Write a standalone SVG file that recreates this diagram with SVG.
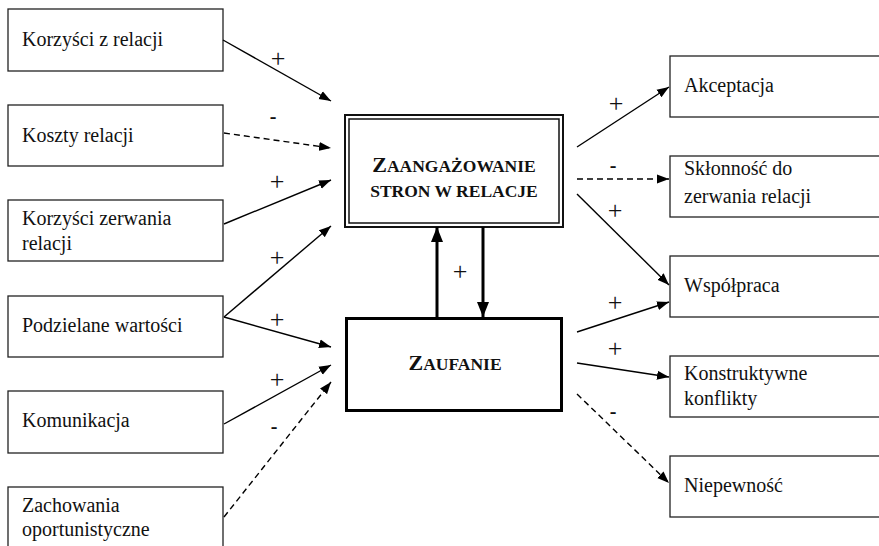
<svg xmlns="http://www.w3.org/2000/svg" width="879" height="546" viewBox="0 0 879 546">
  <style>
    .box { fill: #fff; stroke: #222; stroke-width: 1.3; }
    .lbl { font-family: "Liberation Serif", "Times New Roman", serif; font-size: 20px; fill: #111; }
    .sign { font-family: "Liberation Serif", "Times New Roman", serif; font-size: 26px; fill: #111; text-anchor: middle; }
    .minus { font-weight: bold; font-size: 20px; }
    .title { font-family: "Liberation Serif", "Times New Roman", serif; font-weight: bold; fill: #111; text-anchor: middle; }
    .cap { font-size: 22px; }
    .sc { font-size: 17.5px; }
    .link { fill: none; stroke: #000; stroke-width: 1.4; marker-end: url(#arr); }
    .dash { stroke-dasharray: 6 4; }
    .thick { fill: none; stroke: #000; stroke-width: 3; marker-end: url(#arrBig); }
  </style>
  <defs>
    <marker id="arr" markerUnits="userSpaceOnUse" markerWidth="12" markerHeight="10" refX="12" refY="5" orient="auto">
      <path d="M0,0.5 L12,5 L0,9.5 z" fill="#000"/>
    </marker>
    <marker id="arrBig" markerUnits="userSpaceOnUse" markerWidth="15" markerHeight="12" refX="15" refY="6" orient="auto">
      <path d="M0,0 L15,6 L0,12 z" fill="#000"/>
    </marker>
  </defs>
  <rect width="879" height="546" fill="#fff"/>

  <!-- drivers on the left -->
  <g id="korzysci-z-relacji">
    <rect class="box" x="8" y="9" width="215" height="62"/>
    <text class="lbl" x="22" y="46">Korzyści z relacji</text>
  </g>
  <g id="koszty-relacji">
    <rect class="box" x="8" y="105" width="215" height="61"/>
    <text class="lbl" x="22" y="142">Koszty relacji</text>
  </g>
  <g id="korzysci-zerwania">
    <rect class="box" x="8" y="200" width="215" height="61"/>
    <text class="lbl" x="22" y="225">Korzyści zerwania</text>
    <text class="lbl" x="22" y="250">relacji</text>
  </g>
  <g id="podzielane-wartosci">
    <rect class="box" x="8" y="296" width="215" height="61"/>
    <text class="lbl" x="22" y="332">Podzielane wartości</text>
  </g>
  <g id="komunikacja">
    <rect class="box" x="8" y="391" width="215" height="62"/>
    <text class="lbl" x="22" y="427">Komunikacja</text>
  </g>
  <g id="zachowania-oportunistyczne">
    <rect class="box" x="8" y="487" width="215" height="70"/>
    <text class="lbl" x="22" y="512">Zachowania</text>
    <text class="lbl" x="22" y="536">oportunistyczne</text>
  </g>

  <!-- central constructs -->
  <g id="zaangazowanie">
    <rect x="345" y="115" width="218" height="112" fill="#fff" stroke="#111" stroke-width="2"/>
    <rect x="349" y="119" width="210" height="104" fill="none" stroke="#111" stroke-width="1.5"/>
    <text class="title" x="454" y="172"><tspan class="cap">Z</tspan><tspan class="sc">AANGAŻOWANIE</tspan></text>
    <text class="title sc" x="454" y="197">STRON W RELACJE</text>
  </g>
  <g id="zaufanie">
    <rect x="346.5" y="318.5" width="215" height="92" fill="#fff" stroke="#000" stroke-width="3"/>
    <text class="title" x="455" y="370"><tspan class="cap">Z</tspan><tspan class="sc">AUFANIE</tspan></text>
  </g>

  <!-- outcomes on the right -->
  <g id="akceptacja">
    <rect class="box" x="670" y="56" width="220" height="61"/>
    <text class="lbl" x="684" y="92">Akceptacja</text>
  </g>
  <g id="sklonnosc">
    <rect class="box" x="670" y="156" width="220" height="61"/>
    <text class="lbl" x="684" y="175">Skłonność do</text>
    <text class="lbl" x="684" y="203">zerwania relacji</text>
  </g>
  <g id="wspolpraca">
    <rect class="box" x="670" y="256" width="220" height="61"/>
    <text class="lbl" x="684" y="292">Współpraca</text>
  </g>
  <g id="konstruktywne-konflikty">
    <rect class="box" x="670" y="356" width="220" height="61"/>
    <text class="lbl" x="684" y="380">Konstruktywne</text>
    <text class="lbl" x="684" y="405">konflikty</text>
  </g>
  <g id="niepewnosc">
    <rect class="box" x="670" y="456" width="220" height="61"/>
    <text class="lbl" x="684" y="492">Niepewność</text>
  </g>

  <!-- connectors -->
  <g id="connectors">
    <line class="link" x1="223" y1="40" x2="331" y2="101"/>
    <line class="link dash" x1="224" y1="133" x2="331" y2="148"/>
    <line class="link" x1="224" y1="224" x2="331" y2="180"/>
    <line class="link" x1="224" y1="317" x2="331" y2="226"/>
    <line class="link" x1="224" y1="317" x2="331" y2="347"/>
    <line class="link" x1="224" y1="424" x2="331" y2="365"/>
    <line class="link dash" x1="224" y1="517" x2="331" y2="382"/>

    <line class="thick" x1="437" y1="317" x2="437" y2="227"/>
    <line class="thick" x1="483" y1="227" x2="483" y2="317"/>

    <line class="link" x1="577" y1="147" x2="669" y2="87"/>
    <line class="link dash" x1="577" y1="179" x2="669" y2="179"/>
    <line class="link" x1="577" y1="194" x2="669" y2="285"/>
    <line class="link" x1="577" y1="332" x2="669" y2="302"/>
    <line class="link" x1="577" y1="363" x2="669" y2="377"/>
    <line class="link dash" x1="577" y1="394" x2="669" y2="483"/>

    <text class="sign" x="278" y="67">+</text>
    <text class="sign minus" x="273" y="123">-</text>
    <text class="sign" x="277" y="190">+</text>
    <text class="sign" x="277" y="266">+</text>
    <text class="sign" x="277" y="328">+</text>
    <text class="sign" x="277" y="388">+</text>
    <text class="sign minus" x="274" y="433">-</text>
    <text class="sign" x="460" y="280">+</text>
    <text class="sign" x="616" y="112">+</text>
    <text class="sign minus" x="613" y="172">-</text>
    <text class="sign" x="615" y="219">+</text>
    <text class="sign" x="615" y="311">+</text>
    <text class="sign" x="615" y="357">+</text>
    <text class="sign minus" x="613" y="418">-</text>
  </g>
</svg>
